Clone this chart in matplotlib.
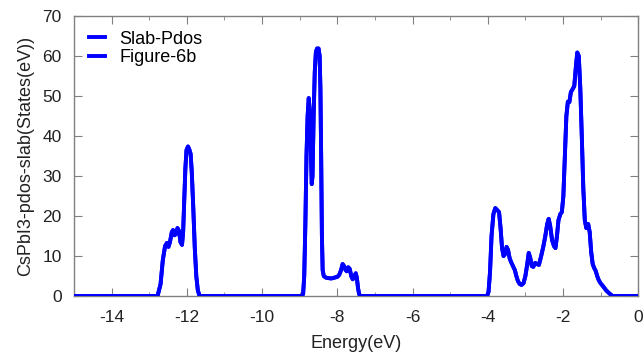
import numpy as np
import matplotlib
matplotlib.use('Agg')
import matplotlib.pyplot as plt
from matplotlib.ticker import MultipleLocator

plt.rcParams['font.family'] = ['Liberation Sans', 'DejaVu Sans']
plt.rcParams['axes.unicode_minus'] = False

# projected DOS (energy in eV, states/eV)
energy = [-15.0, -12.78, -12.70, -12.64, -12.58, -12.53, -12.49, -12.45, -12.40, -12.37,
          -12.33, -12.29, -12.25, -12.21, -12.17, -12.13, -12.10, -12.07, -12.04, -12.01,
          -11.97, -11.93, -11.90, -11.87, -11.83, -11.79, -11.75, -11.71, -11.67, -11.64,
          -8.95, -8.91, -8.88, -8.85, -8.82, -8.79, -8.76, -8.73, -8.70, -8.68,
          -8.66, -8.63, -8.60, -8.57, -8.54, -8.50, -8.47, -8.45, -8.43, -8.41,
          -8.39, -8.36, -8.30, -8.24, -8.16, -8.08, -8.00, -7.95, -7.90, -7.86,
          -7.82, -7.78, -7.75, -7.71, -7.67, -7.63, -7.59, -7.55, -7.51, -7.48,
          -7.45, -7.42, -7.39,
          -4.02, -3.98, -3.94, -3.90, -3.85, -3.80, -3.75, -3.70, -3.66, -3.62,
          -3.58, -3.54, -3.50, -3.46, -3.42, -3.38, -3.33, -3.28, -3.24, -3.20,
          -3.15, -3.10, -3.05, -3.00, -2.95, -2.91, -2.87, -2.83, -2.79, -2.74,
          -2.69, -2.64, -2.58, -2.52, -2.47, -2.42, -2.38, -2.34, -2.29, -2.24,
          -2.20, -2.16, -2.12, -2.07, -2.03, -1.99, -1.95, -1.91, -1.87, -1.83,
          -1.79, -1.74, -1.70, -1.66, -1.62, -1.58, -1.54, -1.50, -1.46, -1.42,
          -1.38, -1.33, -1.29, -1.25, -1.21, -1.17, -1.13, -1.09, -1.05, -1.00,
          -0.93, -0.85, -0.76, -0.68, 0.0]
dos = [0.0, 0.0, 3.0, 9.0, 12.5, 13.3, 12.3, 13.5, 16.0, 16.5,
       15.2, 15.5, 17.0, 16.3, 13.5, 12.8, 16.0, 24.0, 32.0, 36.5,
       37.4, 36.5, 35.5, 31.0, 22.0, 12.0, 5.0, 1.5, 0.2, 0.0,
       0.0, 0.5, 5.0, 18.0, 35.0, 45.0, 49.5, 46.0, 35.0, 28.0,
       30.0, 45.0, 56.0, 61.0, 61.9, 61.9, 60.0, 52.0, 35.0, 15.0,
       6.5, 5.0, 4.6, 4.5, 4.4, 4.6, 4.8, 5.3, 6.5, 8.0,
       7.5, 6.5, 6.2, 7.2, 6.8, 5.0, 4.2, 5.0, 5.7, 4.5,
       2.0, 0.5, 0.0,
       0.0, 1.0, 6.0, 15.0, 20.5, 22.0, 21.5, 21.0, 17.0, 12.0,
       10.0, 10.5, 12.3, 11.5, 9.5, 8.5, 7.5, 6.5, 5.0, 3.8,
       3.0, 2.8, 3.2, 5.0, 8.0, 10.8, 9.5, 7.5, 7.3, 8.3,
       8.0, 7.8, 10.0, 12.5, 15.0, 18.0, 19.3, 17.5, 14.0, 12.5,
       12.0, 15.0, 19.0, 20.5, 21.0, 25.0, 35.0, 45.0, 48.6, 48.5,
       51.0, 51.8, 52.5, 57.0, 60.9, 60.0, 52.0, 40.0, 27.0, 19.0,
       17.0, 18.0, 16.0, 11.0, 8.0, 7.0, 6.3, 5.0, 4.0, 3.2,
       2.4, 1.4, 0.6, 0.0, 0.0]

fig = plt.figure(figsize=(6.44, 3.58), dpi=100)
ax = fig.add_axes([0.115, 0.173, 0.876, 0.782])

ax.plot(energy, dos, color='#0000ff', lw=2.8, label='Slab-Pdos', zorder=3,
        solid_joinstyle='round')
ax.plot(energy, dos, color='#0000ff', lw=2.8, label='Figure-6b', zorder=3,
        solid_joinstyle='round')

ax.set_xlim(-15, 0)
ax.set_ylim(0, 70)
ax.xaxis.set_major_locator(MultipleLocator(2))
ax.xaxis.set_minor_locator(MultipleLocator(1))
ax.yaxis.set_major_locator(MultipleLocator(10))

for s in ax.spines.values():
    s.set_color('#808080')
    s.set_linewidth(1.0)
ax.tick_params(which='both', direction='in', top=True, right=True,
               color='#808080', labelsize=12.5, labelcolor='#222222')
ax.tick_params(which='major', length=6)
ax.tick_params(which='minor', length=3)
ax.tick_params(axis='x', which='major', pad=10)
ax.tick_params(axis='y', which='major', pad=9)

ax.set_xlabel('Energy(eV)', fontsize=13, color='#222222', labelpad=7)
ax.set_ylabel('CsPbI3-pdos-slab(States(eV))', fontsize=13, color='#222222',
              labelpad=6)

leg = ax.legend(loc='upper left', frameon=False, handlelength=0.9,
                fontsize=13, borderaxespad=0.4, handletextpad=0.8,
                labelspacing=0.1)

fig.savefig('out.png', dpi=100)
